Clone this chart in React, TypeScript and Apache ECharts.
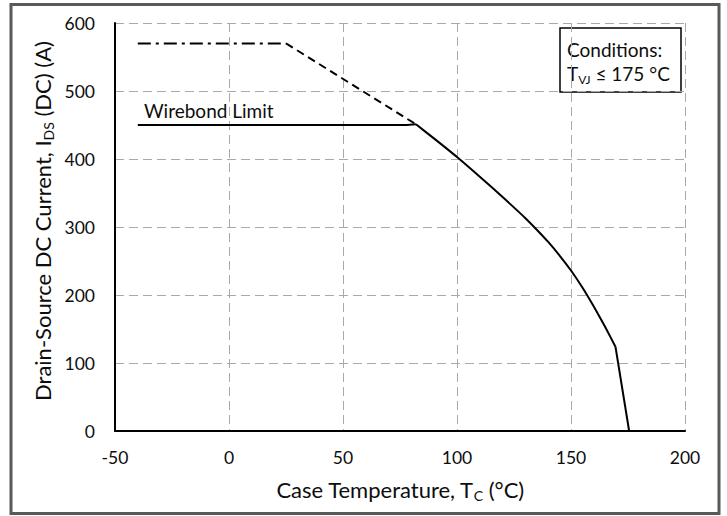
import React, { useEffect, useRef } from "react";
import * as echarts from "echarts";

const xTicks = [-50, 0, 50, 100, 150, 200];
const yTicks = [0, 100, 200, 300, 400, 500, 600];
const dashDotLimit: [number, number][] = [[-40, 570], [25, 570]];
const dashedLimit: [number, number][] = [[25, 570], [82, 451]];
const wirebondLimit: [number, number][] = [[-40, 450], [78, 450], [82, 451]];
const deratingCurve: [number, number][] = [
  [82, 451], [90, 430], [100, 403], [110, 374], [120, 344], [130, 313],
  [135, 296], [140, 278], [145, 258], [150, 236], [155, 211], [160, 183],
  [165, 153], [169.5, 124],
];
const deratingTail: [number, number][] = [[169.5, 124], [175.5, 0]];

const FONT = "Lato";
const TXT = "#0d0d0d";
const GRID = "#a9a9a9";

export default function App() {
  const ref = useRef<HTMLDivElement>(null);
  useEffect(() => {
    document.body.style.margin = "0";
    const chart = echarts.init(ref.current!, null, { renderer: "svg" });
    const line = (data: [number, number][], type: any, smooth: any = false) => ({
      type: "line",
      data,
      symbol: "none",
      silent: true,
      smooth,
      lineStyle: { color: "#000", width: 2, type },
    });
    chart.setOption({
      animation: false,
      textStyle: { fontFamily: FONT },
      grid: { left: 115, right: 42, top: 23, bottom: 85 },
      xAxis: {
        type: "value",
        min: xTicks[0],
        max: xTicks[xTicks.length - 1],
        interval: 50,
        axisLine: { show: true, onZero: false, lineStyle: { color: "#000", width: 2 } },
        axisTick: { show: false },
        axisLabel: { color: TXT, fontSize: 17.5, margin: 17, fontFamily: FONT },
        splitLine: { show: true, lineStyle: { color: GRID, width: 1, type: [9, 5] } },
      },
      yAxis: {
        type: "value",
        min: yTicks[0],
        max: yTicks[yTicks.length - 1],
        interval: 100,
        axisLine: { show: true, onZero: false, lineStyle: { color: "#000", width: 2 } },
        axisTick: { show: false },
        axisLabel: { color: TXT, fontSize: 17.5, margin: 20, fontFamily: FONT },
        splitLine: { show: true, lineStyle: { color: GRID, width: 1, type: [9, 5] } },
      },
      series: [
        line(dashDotLimit, [13, 5, 3, 5]),
        line(dashedLimit, [8, 5]),
        line(wirebondLimit, "solid"),
        line(deratingCurve, "solid", 0.15),
        line(deratingTail, "solid"),
      ],
      graphic: [
        {
          type: "rect",
          shape: { x: 11, y: 4.5, width: 708, height: 509 },
          style: { fill: "none", stroke: "#595959", lineWidth: 3 },
          silent: true,
        },
        {
          type: "rect",
          shape: { x: 560, y: 28, width: 121, height: 64 },
          style: { fill: "#fff", stroke: "#000", lineWidth: 1.5 },
          silent: true,
        },
        {
          type: "text",
          x: 567,
          y: 49,
          style: {
            text: "Conditions:",
            fill: TXT,
            font: `19px ${FONT}`,
            verticalAlign: "middle",
          },
        },
        {
          type: "text",
          x: 567,
          y: 73,
          style: {
            text: "{m|T}{s|VJ}{m| ≤ 175 °C}",
            verticalAlign: "middle",
            rich: {
              m: { fontSize: 19, fill: TXT, fontFamily: FONT, lineHeight: 24 },
              s: { fontSize: 12, fill: TXT, fontFamily: FONT, lineHeight: 14, verticalAlign: "bottom" },
            },
          },
        },
        {
          type: "text",
          x: 144,
          y: 110,
          style: {
            text: "Wirebond Limit",
            fill: TXT,
            font: `19px ${FONT}`,
            verticalAlign: "middle",
          },
        },
        {
          type: "text",
          x: 400,
          y: 489,
          style: {
            text: "{m|Case Temperature, T}{s|C}{m| (°C)}",
            align: "center",
            verticalAlign: "middle",
            rich: {
              m: { fontSize: 22, fill: TXT, fontFamily: FONT, lineHeight: 26 },
              s: { fontSize: 14, fill: TXT, fontFamily: FONT, lineHeight: 16, verticalAlign: "bottom" },
            },
          },
        },
        {
          type: "text",
          x: 42,
          y: 221,
          rotation: Math.PI / 2,
          style: {
            text: "{m|Drain-Source DC Current, I}{s|DS}{m| (DC) (A)}",
            align: "center",
            verticalAlign: "middle",
            rich: {
              m: { fontSize: 22, fill: TXT, fontFamily: FONT, lineHeight: 26 },
              s: { fontSize: 14, fill: TXT, fontFamily: FONT, lineHeight: 16, verticalAlign: "bottom" },
            },
          },
        },
      ],
    });
    return () => chart.dispose();
  }, []);
  return <div ref={ref} style={{ width: 727, height: 516 }} />;
}
